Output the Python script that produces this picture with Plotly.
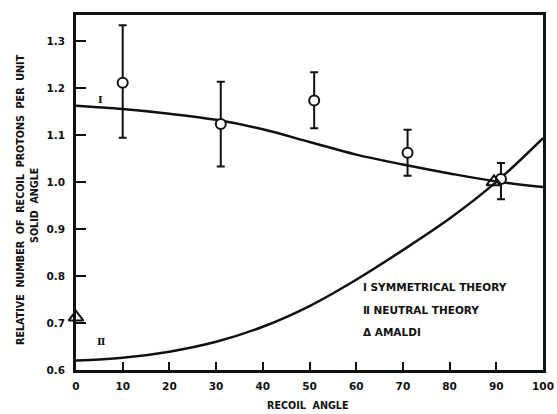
import plotly.graph_objects as go

# Data
exp_x = [10, 31, 51, 71, 91]
exp_y = [1.211, 1.123, 1.173, 1.062, 1.006]
exp_err_plus = [0.122, 0.090, 0.060, 0.049, 0.034]
exp_err_minus = [0.117, 0.090, 0.059, 0.049, 0.043]

amaldi_x = [0, 89.5]
amaldi_y = [0.712, 1.0]

theory_x = [0, 10, 20, 30, 40, 50, 60, 70, 80, 90, 100]
sym_y = [1.162, 1.155, 1.145, 1.132, 1.112, 1.085, 1.058, 1.037, 1.018, 1.001, 0.989]
neu_y = [0.620, 0.626, 0.639, 0.660, 0.692, 0.736, 0.792, 0.855, 0.922, 1.000, 1.093]

x_ticks = [0, 10, 20, 30, 40, 50, 60, 70, 80, 90, 100]
y_ticks = [0.6, 0.7, 0.8, 0.9, 1.0, 1.1, 1.2, 1.3]
y_tick_labels = ["0.6", "0.7", "0.8", "0.9", "1.0", "1.1", "1.2", "1.3"]

legend_lines = ["Ⅰ SYMMETRICAL THEORY", "Ⅱ NEUTRAL THEORY", "Δ AMALDI"]
legend_y = [0.777, 0.728, 0.681]

FONT = "DejaVu Sans"
BLACK = "#111111"

W, H = 557, 414
ml, mr, mt, mb = 76, 14, 15, 44
pw, ph = W - ml - mr, H - mt - mb


def px_to_paper_x(px):
    return (px - ml) / pw


def py_to_paper_y(py):
    return (H - mb - py) / ph


fig = go.Figure()

fig.add_trace(go.Scatter(x=theory_x, y=sym_y, mode="lines",
                         line=dict(color=BLACK, width=2.5, shape="spline"),
                         showlegend=False, hoverinfo="skip"))
fig.add_trace(go.Scatter(x=theory_x, y=neu_y, mode="lines",
                         line=dict(color=BLACK, width=2.5, shape="spline"),
                         showlegend=False, hoverinfo="skip"))
fig.add_trace(go.Scatter(x=exp_x, y=exp_y, mode="markers",
                         marker=dict(symbol="circle", size=10, color="white",
                                     line=dict(color=BLACK, width=2)),
                         error_y=dict(type="data", symmetric=False,
                                      array=exp_err_plus, arrayminus=exp_err_minus,
                                      color=BLACK, thickness=2, width=4),
                         showlegend=False))
fig.add_trace(go.Scatter(x=amaldi_x, y=amaldi_y, mode="markers",
                         marker=dict(symbol="triangle-up-open", size=13, color=BLACK,
                                     line=dict(color=BLACK, width=2)),
                         cliponaxis=False, showlegend=False))

annotations = []
for txt, yy in zip(legend_lines, legend_y):
    annotations.append(dict(x=61, y=yy, xref="x", yref="y", text=txt, showarrow=False,
                            xanchor="left", yanchor="middle",
                            font=dict(family=FONT, size=10.5, color=BLACK, weight="bold")))
annotations.append(dict(x=5.3, y=1.175, xref="x", yref="y", text="Ⅰ", showarrow=False,
                        font=dict(family="DejaVu Serif", size=10, color=BLACK, weight="bold")))
annotations.append(dict(x=5.3, y=0.66, xref="x", yref="y", text="Ⅱ", showarrow=False,
                        font=dict(family="DejaVu Serif", size=10, color=BLACK, weight="bold")))
annotations.append(dict(x=px_to_paper_x(20), y=py_to_paper_y(200), xref="paper", yref="paper",
                        xanchor="center", yanchor="middle",
                        text="RELATIVE  NUMBER  OF  RECOIL  PROTONS  PER  UNIT",
                        showarrow=False, textangle=-90,
                        font=dict(family=FONT, size=9.6, color=BLACK, weight="bold")))
annotations.append(dict(x=px_to_paper_x(35), y=py_to_paper_y(206), xref="paper", yref="paper",
                        xanchor="center", yanchor="middle",
                        text="SOLID  ANGLE",
                        showarrow=False, textangle=-90,
                        font=dict(family=FONT, size=9.6, color=BLACK, weight="bold")))
annotations.append(dict(x=px_to_paper_x(308), y=py_to_paper_y(405), xref="paper", yref="paper",
                        xanchor="center", yanchor="middle",
                        text="RECOIL  ANGLE", showarrow=False,
                        font=dict(family=FONT, size=9.6, color=BLACK, weight="bold")))

fig.update_layout(
    width=W, height=H,
    margin=dict(l=ml, r=mr, t=mt, b=mb, autoexpand=False),
    paper_bgcolor="white", plot_bgcolor="white",
    annotations=annotations,
    xaxis=dict(range=[0, 100], tickvals=x_ticks, ticktext=[str(v) for v in x_ticks],
               ticks="inside", ticklen=8, tickwidth=2, tickcolor=BLACK,
               showline=True, linewidth=2.5, linecolor=BLACK, mirror=True,
               showgrid=False, zeroline=False, automargin=False, ticklabelstandoff=5,
               tickfont=dict(family=FONT, size=10.5, color=BLACK, weight="bold")),
    yaxis=dict(range=[0.6, 1.355], tickvals=y_ticks, ticktext=y_tick_labels,
               ticks="inside", ticklen=10, tickwidth=2, tickcolor=BLACK,
               showline=True, linewidth=2.5, linecolor=BLACK, mirror=True,
               showgrid=False, zeroline=False, automargin=False, ticklabelstandoff=6,
               tickfont=dict(family=FONT, size=10.5, color=BLACK, weight="bold")),
)

fig.write_html("out.html", config={"displayModeBar": False},
               post_script="document.body.style.margin='0';document.body.style.overflow='hidden';")
